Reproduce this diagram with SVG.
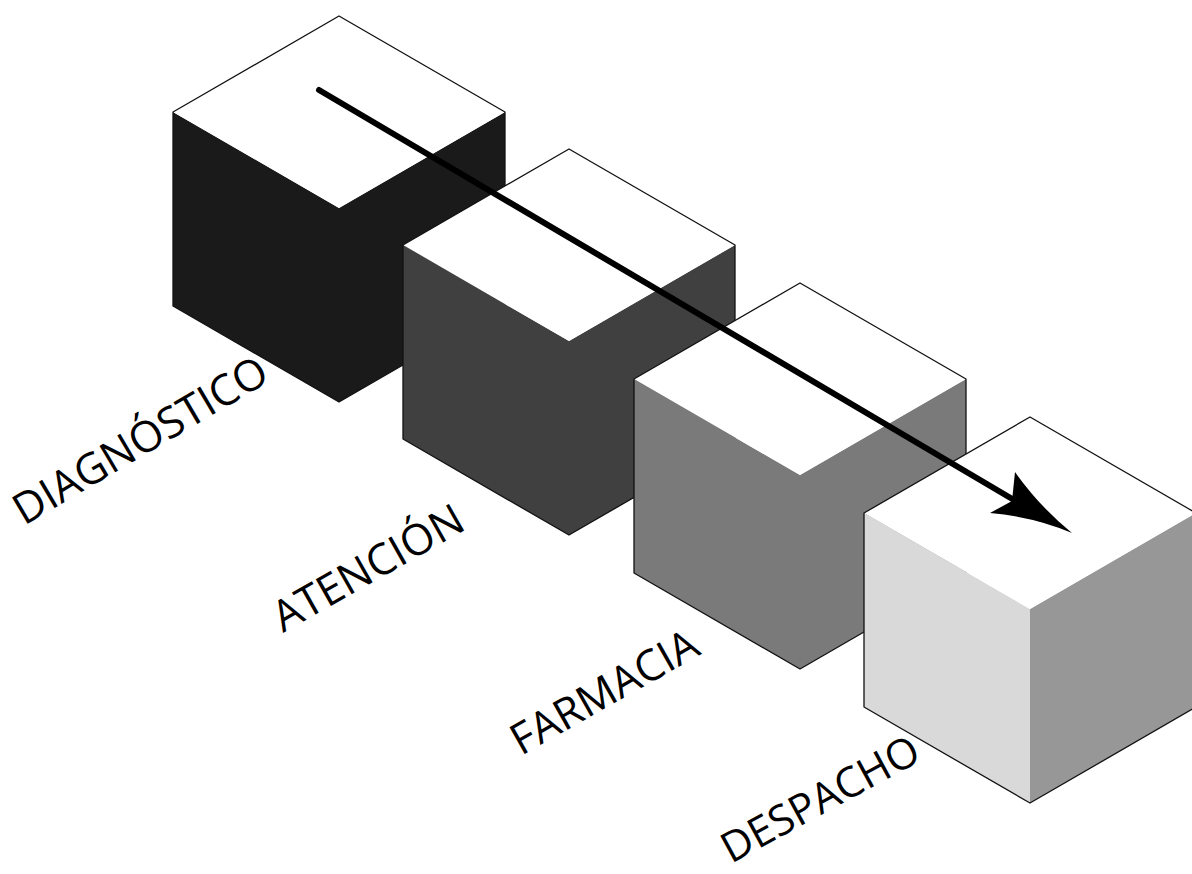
<svg xmlns="http://www.w3.org/2000/svg" width="1192" height="874" viewBox="0 0 1192 874">
<style>
.top{fill:#ffffff}
.edge{fill:none;stroke:#111;stroke-width:1.3;stroke-linejoin:round}
.c1{fill:#1a1a1a}
.c2{fill:#404040}
.c3{fill:#7a7a7a}
.c4l{fill:#d9d9d9}
.c4r{fill:#979797}
.lbl{font-family:"Open Sans","Noto Sans","Liberation Sans",sans-serif;font-size:43px;fill:#000}
</style>
<rect width="1192" height="874" fill="#fff"/>
<g id="cube-diagnostico" transform="translate(339,16)">
<polygon class="c1" points="-166,96 0,192 0,386 -166,290"/>
<polygon class="c1" points="0,192 166,96 166,290 0,386"/>
<polygon class="top" points="0,0 166,96 0,192 -166,96"/>
<polygon class="edge" points="0,0 166,96 166,290 0,386 -166,290 -166,96"/>
</g>
<g id="cube-atencion" transform="translate(569,149)">
<polygon class="c2" points="-166,96 0,192 0,386 -166,290"/>
<polygon class="c2" points="0,192 166,96 166,290 0,386"/>
<polygon class="top" points="0,0 166,96 0,192 -166,96"/>
<polygon class="edge" points="0,0 166,96 166,290 0,386 -166,290 -166,96"/>
</g>
<g id="cube-farmacia" transform="translate(800,283)">
<polygon class="c3" points="-166,96 0,192 0,386 -166,290"/>
<polygon class="c3" points="0,192 166,96 166,290 0,386"/>
<polygon class="top" points="0,0 166,96 0,192 -166,96"/>
<polygon class="edge" points="0,0 166,96 166,290 0,386 -166,290 -166,96"/>
</g>
<g id="cube-despacho" transform="translate(1030,417)">
<polygon class="c4l" points="-166,96 0,192 0,386 -166,290"/>
<polygon class="c4r" points="0,192 166,96 166,290 0,386"/>
<polygon class="top" points="0,0 166,96 0,192 -166,96"/>
<polygon class="edge" points="0,0 166,96 166,290 0,386 -166,290 -166,96"/>
</g>
<g id="labels">
<text class="lbl" transform="translate(24,526) rotate(-30.5)">DIAGNÓSTICO</text>
<text class="lbl" transform="translate(283,633) rotate(-29.5)">ATENCIÓN</text>
<text class="lbl" transform="translate(521,756) rotate(-29.5)">FARMACIA</text>
<text class="lbl" style="font-size:42px" transform="translate(731,864) rotate(-28.5)">DESPACHO</text>
</g>
<g id="connectors">
<line x1="319" y1="90" x2="1014" y2="500" stroke="#000" stroke-width="6" stroke-linecap="round"/>
<path d="M1072,533 Q1040,507 1015,472 L1012,501 L990,513 Q1034,517 1072,533 Z" fill="#000"/>
</g>
</svg>
